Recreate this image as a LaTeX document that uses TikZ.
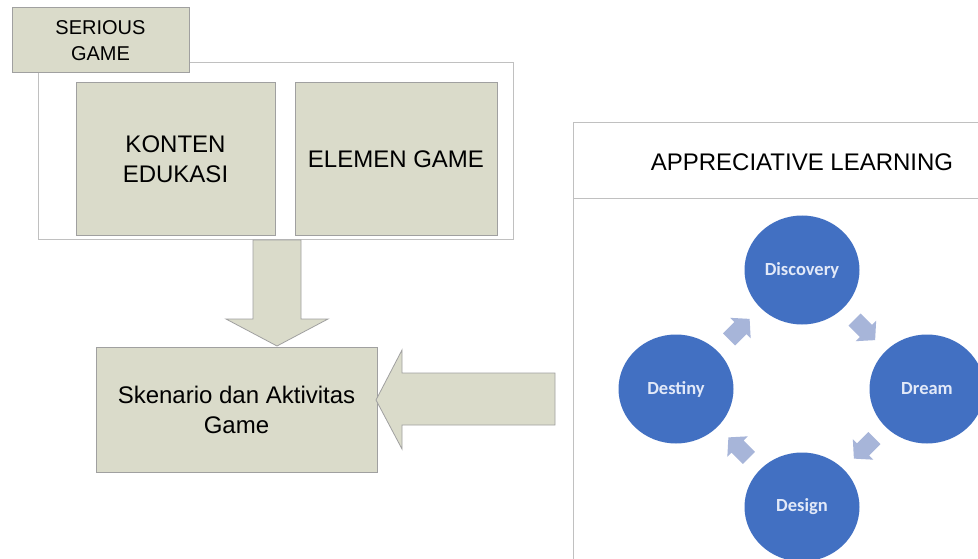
\documentclass[tikz,border=0pt]{standalone}
\usepackage{fontspec}
\setmainfont{Liberation Sans}
\newfontfamily\calfont{Carlito}
\usetikzlibrary{calc,shapes.geometric}
\definecolor{beige}{RGB}{218,219,202}
\definecolor{boxline}{RGB}{160,160,160}
\definecolor{frameline}{RGB}{192,192,192}
\definecolor{circblue}{RGB}{66,112,194}
\definecolor{arrblue}{RGB}{167,181,217}
\definecolor{phasetext}{RGB}{226,233,248}
\tikzset{
  box/.style={draw=boxline, fill=beige, line width=1pt, inner sep=0pt, align=center, text=black},
  bigarrow/.style={draw=boxline, fill=beige, line width=0.8pt, line join=miter},
  phase/.style={ellipse, fill=circblue, minimum width=115pt, minimum height=109pt, inner sep=0pt,
     text=phasetext, font=\calfont\bfseries\fontsize{18.5}{20}\selectfont},
  cyc/.pic={\fill[arrblue] (-14,-8.5) -- (2,-8.5) -- (2,-14.5) -- (15,0) -- (2,14.5) -- (2,8.5) -- (-14,8.5) -- cycle;}
}
\begin{document}
\begin{tikzpicture}[x=1pt,y=-1pt]
\useasboundingbox (0,0) rectangle (978,559);
\fill[white] (0,0) rectangle (978,559);
% serious game frame
\draw[frameline, line width=1pt] (38,63) rectangle (513,239);
\node[box, minimum width=177pt, minimum height=65pt, font=\fontsize{20}{25.5}\selectfont] (sg) at (100.5,40.5) {SERIOUS\\GAME};
\node[box, minimum width=199pt, minimum height=152pt, font=\fontsize{24}{30}\selectfont] (konten) at (175.5,159) {KONTEN\\EDUKASI};
\node[box, minimum width=202pt, minimum height=152pt, font=\fontsize{24}{30}\selectfont] (elemen) at (396,159) {ELEMEN GAME};
% down arrow
\draw[bigarrow] (253,240) -- (301,240) -- (301,319) -- (328,319) -- (277,346) -- (226,319) -- (253,319) -- cycle;
\node[box, minimum width=281pt, minimum height=125pt, font=\fontsize{24}{30}\selectfont] (sk) at (236.5,409.5) {Skenario dan Aktivitas\\Game};
% left arrow
\draw[bigarrow] (555,373) -- (402,373) -- (402,350) -- (376,400) -- (402,449) -- (402,425) -- (555,425) -- cycle;
% right panel
\draw[frameline, line width=1pt] (573,559) -- (573,123) -- (979,123);
\draw[frameline, line width=1pt] (573,199) -- (979,199);
\node[font=\fontsize{24}{30}\selectfont] (al) at (802,162) {APPRECIATIVE LEARNING};
% cycle
\node[phase] (disc) at (802,270) {Discovery};
\node[phase] (dream) at (927,389) {Dream};
\node[phase] (design) at (802,507) {Design};
\node[phase] (dest) at (676,389) {Destiny};
\pic[rotate=-45] at ($(disc)!0.5!(dream)$) {cyc};
\pic[rotate=-135] at ($(dream)!0.5!(design)$) {cyc};
\pic[rotate=135] at ($(design)!0.5!(dest)$) {cyc};
\pic[rotate=45] at ($(dest)!0.5!(disc)$) {cyc};
\end{tikzpicture}
\end{document}
